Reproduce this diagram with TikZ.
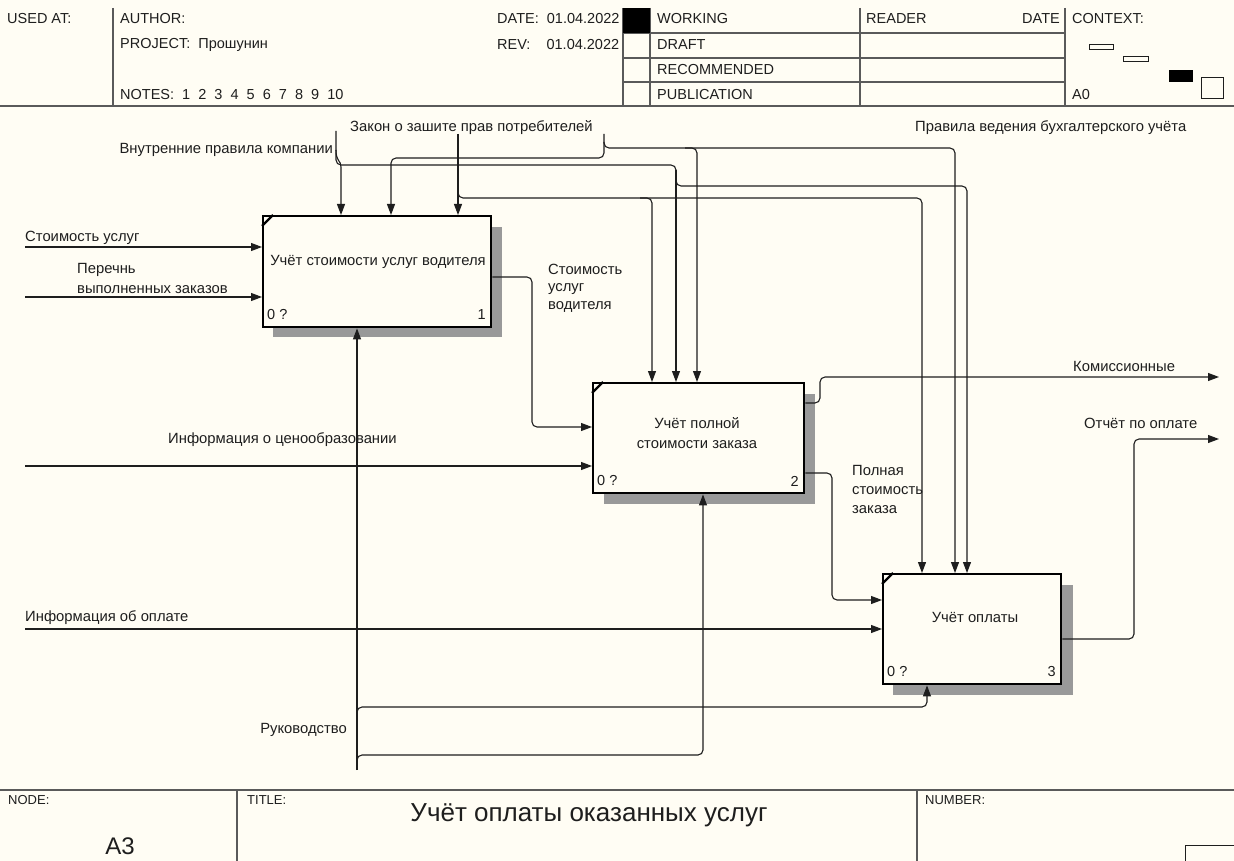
\documentclass[tikz,border=0pt]{standalone}
\usepackage{fontspec}
\setmainfont{Liberation Sans}
\usetikzlibrary{arrows.meta,patterns}
\definecolor{bgc}{HTML}{FFFDF4}
\definecolor{ink}{HTML}{1E1E1E}
\definecolor{hdr}{HTML}{5A5A5A}
\begin{document}
\begin{tikzpicture}[x=1pt,y=-1pt,
  lbl/.style={font=\fontsize{14.8}{18}\selectfont, text=ink, inner sep=0pt, anchor=west, align=left},
  hlbl/.style={font=\fontsize{14.5}{16}\selectfont, text=ink, inner sep=0pt, anchor=west},
  flbl/.style={font=\fontsize{13}{15}\selectfont, text=ink, inner sep=0pt, anchor=west},
  arr/.style={draw=ink, line width=1.1pt, rounded corners=5pt, -{Triangle[length=11pt,width=8pt]}},
  ln/.style={draw=ink, line width=1.1pt, rounded corners=5pt},
  act/.style={draw=black, line width=2.4pt, fill=bgc, anchor=north west, inner sep=0pt},
  boxtxt/.style={font=\fontsize{14.8}{20}\selectfont, text=ink, align=center, inner sep=0pt},
  shade/.style={fill=black!40, draw=none},
  hline/.style={draw=hdr, line width=1.3pt}
]
\useasboundingbox (0,0) rectangle (1234,861);
\fill[bgc] (0,0) rectangle (1234,861);

% ---------- header ----------
\draw[hline] (0,106) -- (1234,106);
\draw[hline] (113,8) -- (113,106);
\draw[hline] (623,8) -- (623,106);
\draw[hline] (650,8) -- (650,106);
\draw[hline] (860,8) -- (860,106);
\draw[hline] (1065,8) -- (1065,106);
\draw[hline] (623,33) -- (1065,33);
\draw[hline] (623,58) -- (1065,58);
\draw[hline] (623,82) -- (1065,82);
\fill[black] (623,8) rectangle (650,33);
\node[hlbl] (usedat) at (7,19) {USED AT:};
\node[hlbl] (author) at (120,19) {AUTHOR:};
\node[hlbl] (project) at (120,45) {PROJECT:\ \ Прошунин};
\node[hlbl] (notes) at (120,95) {NOTES:\ \ 1\ \ 2\ \ 3\ \ 4\ \ 5\ \ 6\ \ 7\ \ 8\ \ 9\ \ 10};
\node[hlbl] (date) at (497,19) {DATE:\ \ 01.04.2022};
\node[hlbl] (rev) at (497,45) {REV:\ \ \ \ 01.04.2022};
\node[hlbl] (working) at (657,19) {WORKING};
\node[hlbl] (draft) at (657,45) {DRAFT};
\node[hlbl] (recom) at (657,70) {RECOMMENDED};
\node[hlbl] (publ) at (657,95) {PUBLICATION};
\node[hlbl] (reader) at (866,19) {READER};
\node[hlbl, anchor=east] (rdate) at (1060,19) {DATE};
\node[hlbl] (context) at (1072,19) {CONTEXT:};
\node[hlbl] (a0) at (1072,95) {A0};
\draw[draw=ink, line width=1pt] (1089,45) rectangle (1113,50);
\draw[draw=ink, line width=1pt] (1123,57) rectangle (1148,62);
\fill[black] (1169,70) rectangle (1193,82);
\draw[draw=ink, line width=1pt] (1201,78) rectangle (1223,99);

% ---------- footer ----------
\draw[hline] (0,790) -- (1234,790);
\draw[hline] (237,790) -- (237,861);
\draw[hline] (917,790) -- (917,861);
\draw[draw=ink, line width=1pt] (1185,845) -- (1234,845);
\draw[draw=ink, line width=1pt] (1185,845) -- (1185,861);
\node[flbl] (nodelbl) at (8,800) {NODE:};
\node[font=\fontsize{24}{26}\selectfont, text=ink, inner sep=0pt] (nodeid) at (120,846) {A3};
\node[flbl] (titlelbl) at (247,800) {TITLE:};
\node[font=\fontsize{26}{28}\selectfont, text=ink, inner sep=0pt] (title) at (589,815) {Учёт оплаты оказанных услуг};
\node[flbl] (numberlbl) at (925,800) {NUMBER:};

% ---------- shadows ----------
\fill[shade] (490,227) rectangle (502,337);
\fill[shade] (273,326) rectangle (502,337);
\fill[shade] (803,394) rectangle (815,504);
\fill[shade] (604,492) rectangle (815,504);
\fill[shade] (1060,585) rectangle (1073,695);
\fill[shade] (893,683) rectangle (1073,695);

% ---------- activity boxes ----------
\node[act, minimum width=228pt, minimum height=111pt] (b1) at (262,215) {};
\node[act, minimum width=211pt, minimum height=110pt] (b2) at (592,382) {};
\node[act, minimum width=178pt, minimum height=110pt] (b3) at (882,573) {};
\foreach \b in {b1,b2,b3}{
  \draw[line width=2.2pt] ([yshift=-11pt]\b.north west) -- ([xshift=11pt]\b.north west);
}
\node[boxtxt] (t1) at (378,262) {Учёт стоимости услуг водителя};
\node[boxtxt] (t2) at (697,433) {Учёт полной\\стоимости заказа};
\node[boxtxt] (t3) at (975,617) {Учёт оплаты};
\node[hlbl] (n1a) at (267,315) {0 ?};
\node[hlbl, anchor=east] (n1b) at (486,315) {1};
\node[hlbl] (n2a) at (597,481) {0 ?};
\node[hlbl, anchor=east] (n2b) at (799,481) {2};
\node[hlbl] (n3a) at (887,672) {0 ?};
\node[hlbl, anchor=east] (n3b) at (1056,672) {3};

% ---------- labels ----------
\node[lbl, anchor=east] (lInt) at (333,150) {Внутренние правила компании};
\node[lbl] (lLaw) at (350,128) {Закон о зашите прав потребителей};
\node[lbl] (lAcc) at (915,128) {Правила ведения бухгалтерского учёта};
\node[lbl] (lCost) at (25,238) {Стоимость услуг};
\node[lbl, font=\fontsize{14.8}{20}\selectfont] (lList) at (77,278) {Перечнь\\выполненных заказов};
\node[lbl, font=\fontsize{14.8}{17.5}\selectfont] (lDrv) at (548,288) {Стоимость\\услуг\\водителя};
\node[lbl] (lPrice) at (168,440) {Информация о ценообразовании};
\node[lbl] (lCom) at (1073,366) {Комиссионные};
\node[lbl] (lRep) at (1084,423) {Отчёт по оплате};
\node[lbl, font=\fontsize{14.8}{19}\selectfont] (lFull) at (852,489) {Полная\\стоимость\\заказа};
\node[lbl] (lPay) at (25,618) {Информация об оплате};
\node[lbl, anchor=east] (lMgmt) at (347,730) {Руководство};

% ---------- free ends ----------
\coordinate (cInt) at (336,131);
\coordinate (cLaw) at (604,134);
\coordinate (cLaw2) at (458,134);
\coordinate (cCost) at (25,247);
\coordinate (cList) at (25,297);
\coordinate (cPrice) at (25,466);
\coordinate (cPay) at (25,629);
\coordinate (cMgmt) at (357,770);
\coordinate (cCom) at (1219,377);
\coordinate (cRep) at (1219,439);

% ---------- controls ----------
\draw[ln] (cInt) -- (336,165) -- (676,165) -- (676,175);
\draw[arr] (336,150) .. controls (336,162) and (341,160) .. (341,172) -- (341,0 |- b1.north);
\draw[arr] (676,170) -- (676,0 |- b2.north);
\draw[arr] (676,176) -- (676,186) -- (967,186) -- (967,0 |- b3.north);

\draw[arr] (cLaw) -- (604,148) -- (955,148) -- (955,0 |- b3.north);
\draw[arr] (604,142) -- (604,158) -- (391,158) -- (391,0 |- b1.north);
\draw[arr] (685,148) -- (697,148) -- (697,0 |- b2.north);

\draw[arr] (cLaw2) -- (458,0 |- b1.north);
\draw[arr] (458,188) -- (458,198) -- (922,198) -- (922,0 |- b3.north);
\draw[arr] (640,198) -- (652,198) -- (652,0 |- b2.north);

% ---------- inputs ----------
\draw[arr] (cCost) -- (b1.west |- cCost);
\draw[arr] (cList) -- (b1.west |- cList);
\draw[arr] (cPrice) -- (b2.west |- cPrice);
\draw[arr] (cPay) -- (b3.west |- cPay);

% ---------- flows between boxes ----------
\draw[arr] (b1.east |- 0,277) -- (532,277) -- (532,427) -- (b2.west |- 0,427);
\draw[arr] (b2.east |- 0,403) -- (820,403) -- (820,377) -- (cCom);
\draw[arr] (b2.east |- 0,473) -- (832,473) -- (832,600) -- (b3.west |- 0,600);
\draw[arr] (b3.east |- 0,639) -- (1134,639) -- (1134,439) -- (cRep);

% ---------- mechanism ----------
\draw[arr] (cMgmt) -- (357,0 |- b1.south);
\draw[arr] (357,717) -- (357,707) -- (927,707) -- (927,0 |- b3.south);
\draw[arr] (357,765) -- (357,755) -- (703,755) -- (703,0 |- b2.south);
\end{tikzpicture}
\end{document}
